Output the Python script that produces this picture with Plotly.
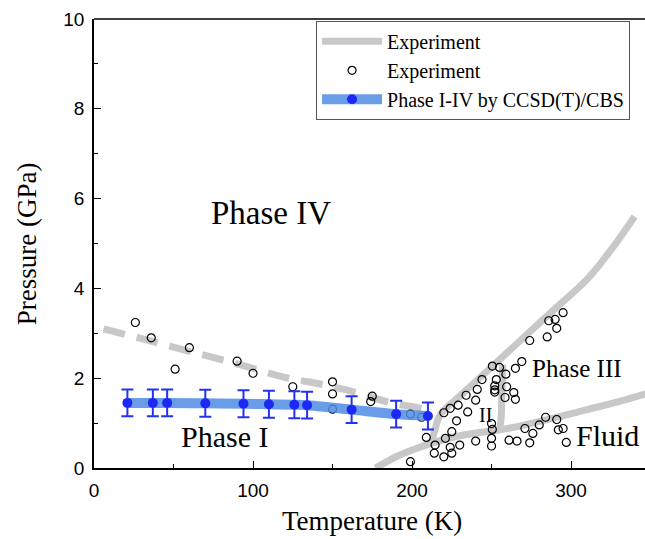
import plotly.graph_objects as go

# ---- data ----
# computed Phase I-IV boundary (CCSD(T)/CBS)
calc_T = [21, 37, 46, 70, 94, 110, 126, 134, 162, 190, 210]
calc_P = [1.45, 1.45, 1.45, 1.44, 1.43, 1.42, 1.41, 1.40, 1.30, 1.20, 1.16]
calc_err = [0.3, 0.3, 0.3, 0.3, 0.3, 0.3, 0.3, 0.3, 0.3, 0.3, 0.3]

# experimental phase boundaries (solid)
low_T = [177, 182, 190, 200, 212, 225, 240, 255, 270, 290, 310, 330, 347]
low_P = [0.0, 0.1, 0.25, 0.4, 0.55, 0.68, 0.78, 0.85, 0.95, 1.12, 1.3, 1.48, 1.65]
rise_T = [212, 214, 218, 230, 250, 270, 290, 310, 325, 340]
rise_P = [0.55, 0.8, 1.2, 1.6, 2.25, 2.9, 3.55, 4.2, 4.85, 5.6]
vert_T = [257, 256.5, 256, 255]
vert_P = [2.3, 1.6, 1.1, 0.85]

# experimental Phase I-IV boundary (dashed)
dash_T = [6, 30, 60, 90, 120, 145, 165, 185, 207]
dash_P = [3.1, 2.88, 2.6, 2.32, 2.02, 1.85, 1.68, 1.47, 1.32]

# experimental points
exp_T = [26, 36, 51, 60, 90, 100, 125, 150, 150, 150,
         175, 174, 199, 206, 199, 209, 214.5, 214, 220, 225,
         224, 230, 221, 225, 228, 220, 224, 229, 235, 234,
         240, 241, 244, 250.5, 253, 252, 252, 240, 250, 250.5,
         250, 250, 255, 259, 265, 269, 252, 259.5, 258.5, 264,
         265, 274, 285, 291, 286, 290, 295, 261, 266, 271,
         276, 274, 280, 284, 291, 292, 295, 297]
exp_P = [3.24, 2.90, 2.20, 2.68, 2.38, 2.11, 1.81, 1.92, 1.65, 1.31,
         1.60, 1.48, 1.20, 1.13, 0.14, 0.68, 0.51, 0.33, 0.25, 0.33,
         0.46, 0.51, 0.66, 0.81, 1.05, 1.23, 1.33, 1.40, 1.25, 1.62,
         1.51, 1.75, 1.97, 2.27, 1.97, 1.83, 1.69, 0.60, 0.99, 0.86,
         0.66, 0.49, 2.24, 2.09, 2.22, 2.37, 1.74, 1.81, 1.57, 1.68,
         1.53, 2.84, 2.92, 3.11, 3.28, 3.31, 3.46, 0.62, 0.60, 0.88,
         0.77, 0.56, 0.96, 1.13, 1.08, 0.85, 0.88, 0.57]

labels = ["Phase IV", "Phase I", "II", "Phase III", "Fluid"]
label_T = [111, 82, 246, 303.5, 323]
label_P = [5.68, 0.71, 1.18, 2.22, 0.73]
label_size = [33, 30, 20, 25, 30]

GRAY = "#C8C8C8"
SERIF = "Liberation Serif, Times New Roman, serif"
SANS = "Liberation Sans, Arial, sans-serif"

solid_T = low_T + [None] + rise_T + [None] + vert_T
solid_P = low_P + [None] + rise_P + [None] + vert_P

fig = go.Figure()
fig.add_trace(go.Scatter(x=solid_T, y=solid_P, mode="lines", name="Experiment",
                         line=dict(color=GRAY, width=7, shape="spline"),
                         connectgaps=False))
fig.add_trace(go.Scatter(x=dash_T, y=dash_P, mode="lines", showlegend=False,
                         line=dict(color=GRAY, width=7, shape="spline", dash="22px,12px")))
fig.add_trace(go.Scatter(x=exp_T, y=exp_P, mode="markers", name="Experiment",
                         marker=dict(symbol="circle-open", size=8, color="black",
                                     line=dict(width=1.2, color="black"))))
fig.add_trace(go.Scatter(x=calc_T, y=calc_P, mode="lines+markers",
                         name="Phase I-IV by CCSD(T)/CBS",
                         line=dict(color="rgba(80,140,228,0.85)", width=10, shape="spline"),
                         marker=dict(size=10, color="#1E28F5"),
                         error_y=dict(type="data", array=calc_err, color="#2233F0",
                                      thickness=2, width=6)))

for t, p, s, z in zip(labels, label_T, label_P, label_size):
    fig.add_annotation(x=p, y=s, text=t, showarrow=False,
                       font=dict(family=SERIF, size=z, color="black"),
                       xanchor="center", yanchor="middle")

# axis titles
fig.add_annotation(xref="paper", yref="paper", x=0.5045, y=-0.118,
                   text="Temperature (K)", showarrow=False,
                   font=dict(family=SERIF, size=27, color="black"),
                   xanchor="center", yanchor="middle")
fig.add_annotation(xref="paper", yref="paper", x=-0.122, y=0.5,
                   text="Pressure (GPa)", showarrow=False, textangle=-90,
                   font=dict(family=SERIF, size=27, color="black"),
                   xanchor="center", yanchor="middle")

# top frame line
fig.add_shape(type="line", xref="paper", yref="paper", x0=0, x1=1, y0=1, y1=1,
              line=dict(color="black", width=1.5))

axis_common = dict(showline=True, linecolor="black", linewidth=1.5,
                   ticks="inside", ticklen=7, tickwidth=1.3, tickcolor="black",
                   showgrid=False, zeroline=False,
                   tickfont=dict(family=SANS, size=19, color="black"),
                   ticklabelstandoff=4)

fig.update_layout(
    width=645, height=539,
    margin=dict(l=94, r=0, t=19, b=71),
    paper_bgcolor="white", plot_bgcolor="white",
    xaxis=dict(range=[0, 346.5], tick0=0, dtick=100,
               minor=dict(ticks="inside", ticklen=4, dtick=50, tickcolor="black", tickwidth=1.3),
               **axis_common),
    yaxis=dict(range=[0, 10], tick0=0, dtick=2,
               minor=dict(ticks="inside", ticklen=4, dtick=1, tickcolor="black", tickwidth=1.3),
               **axis_common),
    legend=dict(x=0.403, y=0.996, xanchor="left", yanchor="top",
                bgcolor="white", bordercolor="#555555", borderwidth=1,
                font=dict(family=SERIF, size=20, color="black"),
                itemwidth=60, tracegroupgap=0),
    showlegend=True,
)

fig.write_html("out.html",
               config={"displayModeBar": False},
               post_script="document.body.style.margin='0';document.body.style.overflow='hidden';")
